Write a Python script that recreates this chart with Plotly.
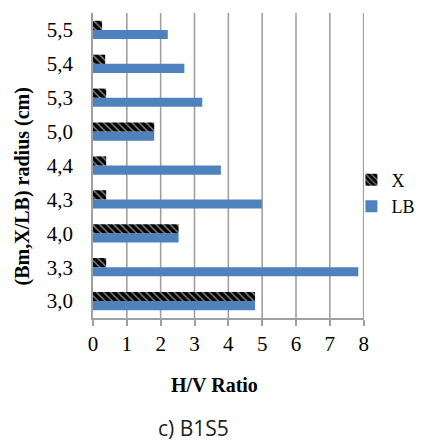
import plotly.graph_objects as go

# Radius categories (cm) and H/V ratios per series
radius = ["3,0", "3,3", "4,0", "4,3", "4,4", "5,0", "5,3", "5,4", "5,5"]
hv_x = [4.79, 0.39, 2.53, 0.39, 0.39, 1.81, 0.39, 0.36, 0.27]
hv_lb = [4.79, 7.84, 2.53, 4.99, 3.78, 1.81, 3.23, 2.70, 2.21]
ratio_ticks = [0, 1, 2, 3, 4, 5, 6, 7, 8]

serif = "Liberation Serif"
grid = "rgb(160,160,160)"

fig = go.Figure()
fig.add_trace(go.Bar(
    y=radius, x=hv_lb, orientation="h", name="LB",
    marker=dict(color="#4f81bd", line=dict(width=0)),
    legendrank=2,
))
fig.add_trace(go.Bar(
    y=radius, x=hv_x, orientation="h", name="X",
    marker=dict(color="black", line=dict(width=0),
                pattern=dict(shape="\\", fgcolor="white", size=5, solidity=0.3)),
    legendrank=1,
))

# Vertical gridlines at each ratio tick, beneath the bars
for t in ratio_ticks[1:]:
    fig.add_shape(type="line", xref="x", yref="paper", x0=t, x1=t, y0=0, y1=1,
                  line=dict(color=grid, width=1.6), layer="below")

fig.update_layout(
    width=427, height=444,
    margin=dict(l=93, r=63, t=13, b=126, autoexpand=False),
    paper_bgcolor="white", plot_bgcolor="rgba(0,0,0,0)",
    barmode="group", bargap=0.46, bargroupgap=0,
    font=dict(family=serif, color="black"),
    legend=dict(xref="container", yref="container", x=0.823, y=0.565,
                xanchor="left", yanchor="middle",
                font=dict(family=serif, size=18), itemwidth=30,
                tracegroupgap=8, bgcolor="rgba(0,0,0,0)"),
    xaxis=dict(range=[0, 8.01], tickmode="array", tickvals=ratio_ticks,
               ticktext=[str(t) for t in ratio_ticks],
               showgrid=False, zeroline=False,
               showline=True, linecolor=grid, linewidth=1.5,
               ticks="outside", ticklen=6, tickcolor=grid, tickwidth=1.5,
               tickfont=dict(family=serif, size=21)),
    yaxis=dict(type="category", categoryorder="array", categoryarray=radius,
               showgrid=False, showline=True, linecolor=grid,
               linewidth=1.5, ticks="", ticklabelstandoff=14,
               tickfont=dict(family=serif, size=21)),
    showlegend=True,
)

fig.add_annotation(text="<b>H/V Ratio</b>", xref="paper", yref="paper",
                   x=0.45, y=-0.22, xanchor="center", yanchor="middle",
                   showarrow=False, font=dict(family=serif, size=20))
fig.add_annotation(text="<b>(Bm,X/LB) radius (cm)</b>", xref="paper", yref="paper",
                   x=-0.26, y=0.43, xanchor="center", yanchor="middle",
                   textangle=-90, showarrow=False, font=dict(family=serif, size=20))
fig.add_annotation(text="c) B1S5", xref="paper", yref="paper",
                   x=0.37, y=-0.36, xanchor="center", yanchor="middle",
                   showarrow=False, font=dict(family="Open Sans", size=21, color="#222"))

fig.write_html("out.html")
